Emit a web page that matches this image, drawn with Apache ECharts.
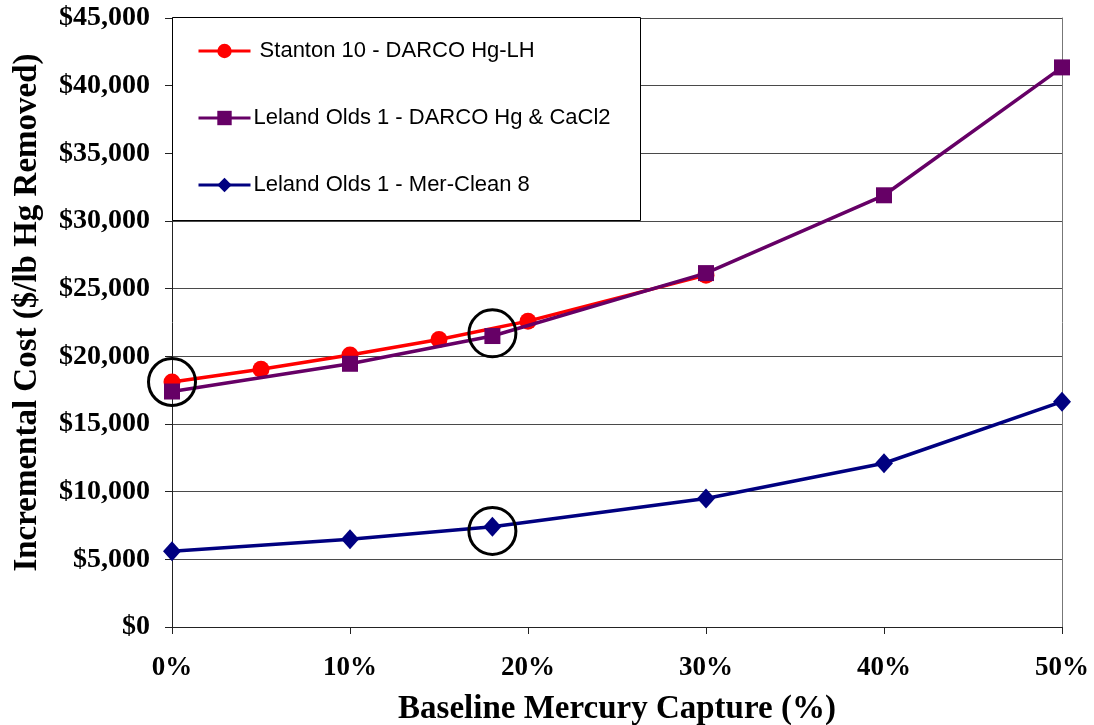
<!DOCTYPE html>
<html>
<head>
<meta charset="utf-8">
<script src="https://cdn.jsdelivr.net/npm/echarts@6/dist/echarts.min.js"></script>
<style>
html,body{margin:0;padding:0;background:#fff;overflow:hidden;}
#chart{width:1094px;height:725px;}
</style>
</head>
<body>
<div id="chart"></div>
<script>
// Data
const seriesNames = [' Stanton 10 - DARCO Hg-LH', 'Leland Olds 1 - DARCO Hg & CaCl2', 'Leland Olds 1 - Mer-Clean 8'];
const stantonX = [0, 5, 10, 15, 20, 30];
const stantonY = [18100, 19050, 20100, 21250, 22600, 26000];
const darcoX = [0, 10, 18, 30, 40, 50];
const darcoY = [17400, 19450, 21500, 26150, 31900, 41350];
const merCleanX = [0, 10, 18, 30, 40, 50];
const merCleanY = [5600, 6480, 7400, 9500, 12100, 16650];
const highlightPoints = [[0, 18100], [18, 21700], [18, 7100]];
const xTicks = [0, 10, 20, 30, 40, 50];
const yTicks = [0, 5000, 10000, 15000, 20000, 25000, 30000, 35000, 40000, 45000];

const pairs = (xs, ys) => xs.map((x, i) => [x, ys[i]]);
const serif = '"Liberation Serif", "Times New Roman", serif';
const sans = '"Liberation Sans", Arial, sans-serif';

const chart = echarts.init(document.getElementById('chart'));
chart.setOption({
  animation: false,
  backgroundColor: '#fff',
  grid: { left: 172, right: 32, top: 18, bottom: 98, containLabel: false, outerBoundsMode: 'none' },
  xAxis: {
    type: 'value', min: xTicks[0], max: xTicks[xTicks.length - 1], interval: 10,
    axisLine: { show: true, lineStyle: { color: '#222', width: 1 } },
    axisTick: { show: true, length: 7, lineStyle: { color: '#222' } },
    splitLine: { show: false },
    axisLabel: { formatter: '{value}%', fontFamily: serif, fontWeight: 'bold', fontSize: 27, color: '#000', margin: 28 },
    name: 'Baseline Mercury Capture (%)', nameLocation: 'middle', nameGap: 66,
    nameTextStyle: { fontFamily: serif, fontWeight: 'bold', fontSize: 33, color: '#000' }
  },
  yAxis: [{
    type: 'value', min: yTicks[0], max: yTicks[yTicks.length - 1], interval: 5000,
    axisLine: { show: true, lineStyle: { color: '#222', width: 1 } },
    axisTick: { show: true, length: 7, lineStyle: { color: '#222' } },
    splitLine: { show: true, lineStyle: { color: '#4a4a4a', width: 1 } },
    axisLabel: { formatter: v => '$' + v.toLocaleString('en-US'), fontFamily: serif, fontWeight: 'bold', fontSize: 28, color: '#000', margin: 22 },
    name: 'Incremental Cost ($/lb Hg Removed)', nameLocation: 'middle', nameGap: 128, nameRotate: 90,
    nameTextStyle: { fontFamily: serif, fontWeight: 'bold', fontSize: 33, color: '#000', padding: [0, 0, 0, 20] }
  }, {
    type: 'value', position: 'right', min: yTicks[0], max: yTicks[yTicks.length - 1], interval: 5000,
    axisLine: { show: true, lineStyle: { color: '#777', width: 1 } },
    axisTick: { show: false }, axisLabel: { show: false }, splitLine: { show: false }
  }],
  graphic: [{
    type: 'rect', left: 172, top: 17, shape: { width: 468, height: 203 },
    style: { fill: '#fff', stroke: '#000', lineWidth: 1 }, z: 50
  }],
  legend: {
    orient: 'vertical', left: 197, top: 40, padding: 0, itemGap: 45, itemWidth: 52, itemHeight: 18,
    lineStyle: { width: 3 },
    textStyle: { fontFamily: sans, fontSize: 22, color: '#000', padding: [0, 0, 0, -2] },
    z: 60
  },
  series: [
    {
      name: seriesNames[0], type: 'line', data: pairs(stantonX, stantonY),
      symbol: 'circle', symbolSize: 17, lineStyle: { color: '#ff0000', width: 3.5 },
      itemStyle: { color: '#ff0000' }, z: 3
    },
    {
      name: seriesNames[1], type: 'line', data: pairs(darcoX, darcoY),
      symbol: 'rect', symbolSize: 16, lineStyle: { color: '#660066', width: 3.5 },
      itemStyle: { color: '#660066' }, z: 4
    },
    {
      name: seriesNames[2], type: 'line', data: pairs(merCleanX, merCleanY),
      symbol: 'diamond', symbolSize: [18, 20], lineStyle: { color: '#000080', width: 3.5 },
      itemStyle: { color: '#000080' }, z: 4,
      markPoint: {
        symbol: 'circle', symbolSize: 47, silent: true,
        itemStyle: { color: 'rgba(0,0,0,0)', borderColor: '#000', borderWidth: 3 },
        label: { show: false },
        data: highlightPoints.map(p => ({ coord: p }))
      }
    }
  ]
});
</script>
</body>
</html>
